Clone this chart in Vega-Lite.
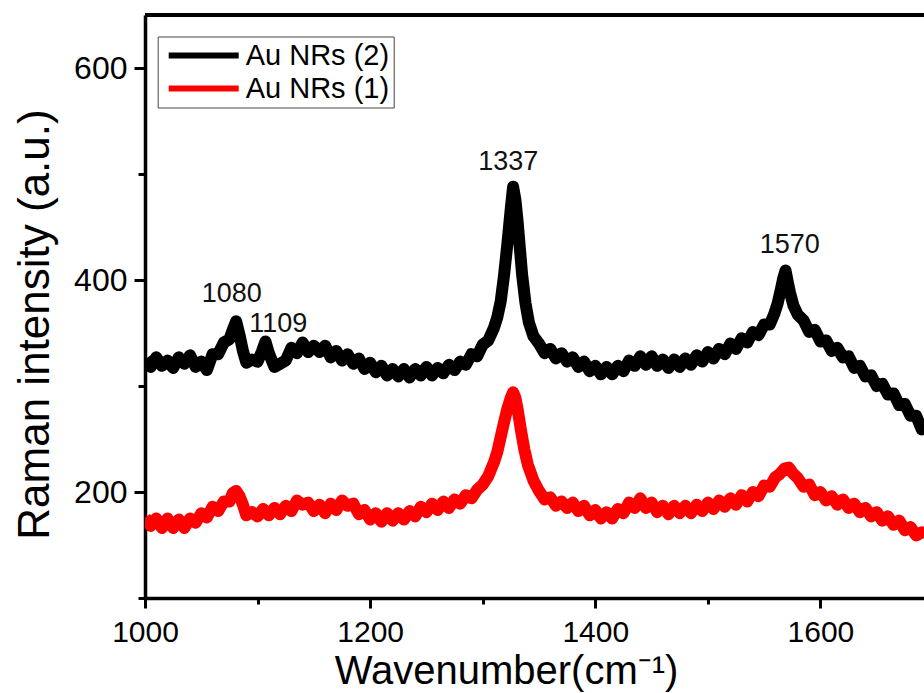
{
  "$schema": "https://vega.github.io/schema/vega-lite/v6.json",
  "width": 779,
  "height": 583,
  "autosize": {"type": "none"},
  "padding": {"left": 145, "top": 15, "right": 0, "bottom": 95},
  "background": "white",
  "config": {
    "view": {"stroke": null},
    "font": "Liberation Sans",
    "axis": {"labelFont": "Liberation Sans", "titleFont": "Liberation Sans", "labelColor": "black", "titleColor": "black", "titleFontWeight": "normal", "domainColor": "black", "tickColor": "black", "grid": false, "labelFlush": false, "labelOverlap": false, "labelBound": false}
  },
  "datasets": {
    "spectra": [
      {"x":1000,"y":325,"s":"Au NRs (2)"},{"x":1005,"y":318,"s":"Au NRs (2)"},{"x":1010,"y":327,"s":"Au NRs (2)"},{"x":1015,"y":319,"s":"Au NRs (2)"},{"x":1020,"y":324,"s":"Au NRs (2)"},{"x":1025,"y":317,"s":"Au NRs (2)"},{"x":1030,"y":327,"s":"Au NRs (2)"},{"x":1035,"y":321,"s":"Au NRs (2)"},{"x":1040,"y":329,"s":"Au NRs (2)"},{"x":1045,"y":318,"s":"Au NRs (2)"},{"x":1050,"y":323,"s":"Au NRs (2)"},{"x":1055,"y":315,"s":"Au NRs (2)"},{"x":1060,"y":330,"s":"Au NRs (2)"},{"x":1065,"y":330,"s":"Au NRs (2)"},{"x":1070,"y":341,"s":"Au NRs (2)"},{"x":1075,"y":344,"s":"Au NRs (2)"},{"x":1078,"y":353,"s":"Au NRs (2)"},{"x":1081,"y":361,"s":"Au NRs (2)"},{"x":1084,"y":348,"s":"Au NRs (2)"},{"x":1087,"y":333,"s":"Au NRs (2)"},{"x":1090,"y":322,"s":"Au NRs (2)"},{"x":1095,"y":325,"s":"Au NRs (2)"},{"x":1100,"y":323,"s":"Au NRs (2)"},{"x":1104,"y":333,"s":"Au NRs (2)"},{"x":1107,"y":342,"s":"Au NRs (2)"},{"x":1110,"y":331,"s":"Au NRs (2)"},{"x":1115,"y":318,"s":"Au NRs (2)"},{"x":1120,"y":321,"s":"Au NRs (2)"},{"x":1125,"y":324,"s":"Au NRs (2)"},{"x":1130,"y":336,"s":"Au NRs (2)"},{"x":1135,"y":331,"s":"Au NRs (2)"},{"x":1140,"y":341,"s":"Au NRs (2)"},{"x":1145,"y":332,"s":"Au NRs (2)"},{"x":1150,"y":338,"s":"Au NRs (2)"},{"x":1155,"y":332,"s":"Au NRs (2)"},{"x":1160,"y":338,"s":"Au NRs (2)"},{"x":1165,"y":327,"s":"Au NRs (2)"},{"x":1170,"y":333,"s":"Au NRs (2)"},{"x":1175,"y":324,"s":"Au NRs (2)"},{"x":1180,"y":330,"s":"Au NRs (2)"},{"x":1185,"y":321,"s":"Au NRs (2)"},{"x":1190,"y":326,"s":"Au NRs (2)"},{"x":1195,"y":316,"s":"Au NRs (2)"},{"x":1200,"y":322,"s":"Au NRs (2)"},{"x":1205,"y":313,"s":"Au NRs (2)"},{"x":1210,"y":319,"s":"Au NRs (2)"},{"x":1215,"y":310,"s":"Au NRs (2)"},{"x":1220,"y":316,"s":"Au NRs (2)"},{"x":1225,"y":309,"s":"Au NRs (2)"},{"x":1230,"y":316,"s":"Au NRs (2)"},{"x":1235,"y":308,"s":"Au NRs (2)"},{"x":1240,"y":316,"s":"Au NRs (2)"},{"x":1245,"y":310,"s":"Au NRs (2)"},{"x":1250,"y":318,"s":"Au NRs (2)"},{"x":1255,"y":310,"s":"Au NRs (2)"},{"x":1260,"y":317,"s":"Au NRs (2)"},{"x":1265,"y":312,"s":"Au NRs (2)"},{"x":1270,"y":320,"s":"Au NRs (2)"},{"x":1275,"y":315,"s":"Au NRs (2)"},{"x":1280,"y":323,"s":"Au NRs (2)"},{"x":1285,"y":320,"s":"Au NRs (2)"},{"x":1290,"y":330,"s":"Au NRs (2)"},{"x":1295,"y":328,"s":"Au NRs (2)"},{"x":1300,"y":339,"s":"Au NRs (2)"},{"x":1305,"y":343,"s":"Au NRs (2)"},{"x":1310,"y":355,"s":"Au NRs (2)"},{"x":1313,"y":365,"s":"Au NRs (2)"},{"x":1316,"y":380,"s":"Au NRs (2)"},{"x":1319,"y":405,"s":"Au NRs (2)"},{"x":1322,"y":435,"s":"Au NRs (2)"},{"x":1325,"y":468,"s":"Au NRs (2)"},{"x":1327,"y":488,"s":"Au NRs (2)"},{"x":1329,"y":476,"s":"Au NRs (2)"},{"x":1331,"y":455,"s":"Au NRs (2)"},{"x":1333,"y":430,"s":"Au NRs (2)"},{"x":1335,"y":405,"s":"Au NRs (2)"},{"x":1338,"y":378,"s":"Au NRs (2)"},{"x":1341,"y":360,"s":"Au NRs (2)"},{"x":1345,"y":347,"s":"Au NRs (2)"},{"x":1350,"y":340,"s":"Au NRs (2)"},{"x":1355,"y":331,"s":"Au NRs (2)"},{"x":1360,"y":335,"s":"Au NRs (2)"},{"x":1365,"y":326,"s":"Au NRs (2)"},{"x":1370,"y":331,"s":"Au NRs (2)"},{"x":1375,"y":323,"s":"Au NRs (2)"},{"x":1380,"y":327,"s":"Au NRs (2)"},{"x":1385,"y":318,"s":"Au NRs (2)"},{"x":1390,"y":323,"s":"Au NRs (2)"},{"x":1395,"y":314,"s":"Au NRs (2)"},{"x":1400,"y":319,"s":"Au NRs (2)"},{"x":1405,"y":311,"s":"Au NRs (2)"},{"x":1410,"y":318,"s":"Au NRs (2)"},{"x":1415,"y":311,"s":"Au NRs (2)"},{"x":1420,"y":319,"s":"Au NRs (2)"},{"x":1425,"y":314,"s":"Au NRs (2)"},{"x":1430,"y":324,"s":"Au NRs (2)"},{"x":1435,"y":319,"s":"Au NRs (2)"},{"x":1440,"y":328,"s":"Au NRs (2)"},{"x":1445,"y":320,"s":"Au NRs (2)"},{"x":1450,"y":328,"s":"Au NRs (2)"},{"x":1455,"y":319,"s":"Au NRs (2)"},{"x":1460,"y":325,"s":"Au NRs (2)"},{"x":1465,"y":317,"s":"Au NRs (2)"},{"x":1470,"y":325,"s":"Au NRs (2)"},{"x":1475,"y":318,"s":"Au NRs (2)"},{"x":1480,"y":326,"s":"Au NRs (2)"},{"x":1485,"y":320,"s":"Au NRs (2)"},{"x":1490,"y":329,"s":"Au NRs (2)"},{"x":1495,"y":323,"s":"Au NRs (2)"},{"x":1500,"y":332,"s":"Au NRs (2)"},{"x":1505,"y":326,"s":"Au NRs (2)"},{"x":1510,"y":335,"s":"Au NRs (2)"},{"x":1515,"y":330,"s":"Au NRs (2)"},{"x":1520,"y":340,"s":"Au NRs (2)"},{"x":1525,"y":335,"s":"Au NRs (2)"},{"x":1530,"y":345,"s":"Au NRs (2)"},{"x":1535,"y":341,"s":"Au NRs (2)"},{"x":1540,"y":351,"s":"Au NRs (2)"},{"x":1545,"y":348,"s":"Au NRs (2)"},{"x":1550,"y":358,"s":"Au NRs (2)"},{"x":1555,"y":358,"s":"Au NRs (2)"},{"x":1559,"y":368,"s":"Au NRs (2)"},{"x":1562,"y":378,"s":"Au NRs (2)"},{"x":1565,"y":392,"s":"Au NRs (2)"},{"x":1567,"y":402,"s":"Au NRs (2)"},{"x":1569,"y":409,"s":"Au NRs (2)"},{"x":1571,"y":398,"s":"Au NRs (2)"},{"x":1573,"y":388,"s":"Au NRs (2)"},{"x":1576,"y":376,"s":"Au NRs (2)"},{"x":1580,"y":367,"s":"Au NRs (2)"},{"x":1585,"y":362,"s":"Au NRs (2)"},{"x":1590,"y":351,"s":"Au NRs (2)"},{"x":1595,"y":353,"s":"Au NRs (2)"},{"x":1600,"y":342,"s":"Au NRs (2)"},{"x":1605,"y":343,"s":"Au NRs (2)"},{"x":1610,"y":333,"s":"Au NRs (2)"},{"x":1615,"y":336,"s":"Au NRs (2)"},{"x":1620,"y":327,"s":"Au NRs (2)"},{"x":1625,"y":328,"s":"Au NRs (2)"},{"x":1630,"y":317,"s":"Au NRs (2)"},{"x":1635,"y":319,"s":"Au NRs (2)"},{"x":1640,"y":309,"s":"Au NRs (2)"},{"x":1645,"y":310,"s":"Au NRs (2)"},{"x":1650,"y":300,"s":"Au NRs (2)"},{"x":1655,"y":302,"s":"Au NRs (2)"},{"x":1660,"y":292,"s":"Au NRs (2)"},{"x":1665,"y":293,"s":"Au NRs (2)"},{"x":1670,"y":282,"s":"Au NRs (2)"},{"x":1675,"y":283,"s":"Au NRs (2)"},{"x":1680,"y":272,"s":"Au NRs (2)"},{"x":1685,"y":272,"s":"Au NRs (2)"},{"x":1690,"y":259,"s":"Au NRs (2)"},{"x":1692,"y":260,"s":"Au NRs (2)"},
      {"x":1000,"y":176,"s":"Au NRs (1)"},{"x":1005,"y":168,"s":"Au NRs (1)"},{"x":1010,"y":175,"s":"Au NRs (1)"},{"x":1015,"y":166,"s":"Au NRs (1)"},{"x":1020,"y":175,"s":"Au NRs (1)"},{"x":1025,"y":166,"s":"Au NRs (1)"},{"x":1030,"y":174,"s":"Au NRs (1)"},{"x":1035,"y":166,"s":"Au NRs (1)"},{"x":1040,"y":175,"s":"Au NRs (1)"},{"x":1045,"y":171,"s":"Au NRs (1)"},{"x":1050,"y":180,"s":"Au NRs (1)"},{"x":1055,"y":176,"s":"Au NRs (1)"},{"x":1060,"y":186,"s":"Au NRs (1)"},{"x":1065,"y":182,"s":"Au NRs (1)"},{"x":1070,"y":191,"s":"Au NRs (1)"},{"x":1075,"y":191,"s":"Au NRs (1)"},{"x":1078,"y":199,"s":"Au NRs (1)"},{"x":1081,"y":201,"s":"Au NRs (1)"},{"x":1084,"y":196,"s":"Au NRs (1)"},{"x":1087,"y":188,"s":"Au NRs (1)"},{"x":1090,"y":178,"s":"Au NRs (1)"},{"x":1095,"y":181,"s":"Au NRs (1)"},{"x":1100,"y":177,"s":"Au NRs (1)"},{"x":1105,"y":184,"s":"Au NRs (1)"},{"x":1110,"y":178,"s":"Au NRs (1)"},{"x":1115,"y":185,"s":"Au NRs (1)"},{"x":1120,"y":179,"s":"Au NRs (1)"},{"x":1125,"y":187,"s":"Au NRs (1)"},{"x":1130,"y":182,"s":"Au NRs (1)"},{"x":1135,"y":192,"s":"Au NRs (1)"},{"x":1140,"y":188,"s":"Au NRs (1)"},{"x":1145,"y":190,"s":"Au NRs (1)"},{"x":1150,"y":182,"s":"Au NRs (1)"},{"x":1155,"y":188,"s":"Au NRs (1)"},{"x":1160,"y":180,"s":"Au NRs (1)"},{"x":1165,"y":189,"s":"Au NRs (1)"},{"x":1170,"y":183,"s":"Au NRs (1)"},{"x":1175,"y":192,"s":"Au NRs (1)"},{"x":1180,"y":187,"s":"Au NRs (1)"},{"x":1185,"y":189,"s":"Au NRs (1)"},{"x":1190,"y":179,"s":"Au NRs (1)"},{"x":1195,"y":183,"s":"Au NRs (1)"},{"x":1200,"y":174,"s":"Au NRs (1)"},{"x":1205,"y":180,"s":"Au NRs (1)"},{"x":1210,"y":172,"s":"Au NRs (1)"},{"x":1215,"y":180,"s":"Au NRs (1)"},{"x":1220,"y":173,"s":"Au NRs (1)"},{"x":1225,"y":180,"s":"Au NRs (1)"},{"x":1230,"y":174,"s":"Au NRs (1)"},{"x":1235,"y":182,"s":"Au NRs (1)"},{"x":1240,"y":177,"s":"Au NRs (1)"},{"x":1245,"y":186,"s":"Au NRs (1)"},{"x":1250,"y":181,"s":"Au NRs (1)"},{"x":1255,"y":189,"s":"Au NRs (1)"},{"x":1260,"y":183,"s":"Au NRs (1)"},{"x":1265,"y":191,"s":"Au NRs (1)"},{"x":1270,"y":185,"s":"Au NRs (1)"},{"x":1275,"y":193,"s":"Au NRs (1)"},{"x":1280,"y":189,"s":"Au NRs (1)"},{"x":1285,"y":197,"s":"Au NRs (1)"},{"x":1290,"y":194,"s":"Au NRs (1)"},{"x":1295,"y":202,"s":"Au NRs (1)"},{"x":1300,"y":207,"s":"Au NRs (1)"},{"x":1305,"y":215,"s":"Au NRs (1)"},{"x":1310,"y":228,"s":"Au NRs (1)"},{"x":1313,"y":238,"s":"Au NRs (1)"},{"x":1316,"y":252,"s":"Au NRs (1)"},{"x":1319,"y":266,"s":"Au NRs (1)"},{"x":1322,"y":279,"s":"Au NRs (1)"},{"x":1325,"y":289,"s":"Au NRs (1)"},{"x":1327,"y":294,"s":"Au NRs (1)"},{"x":1329,"y":289,"s":"Au NRs (1)"},{"x":1331,"y":278,"s":"Au NRs (1)"},{"x":1334,"y":258,"s":"Au NRs (1)"},{"x":1337,"y":240,"s":"Au NRs (1)"},{"x":1340,"y":226,"s":"Au NRs (1)"},{"x":1345,"y":211,"s":"Au NRs (1)"},{"x":1350,"y":201,"s":"Au NRs (1)"},{"x":1355,"y":193,"s":"Au NRs (1)"},{"x":1360,"y":195,"s":"Au NRs (1)"},{"x":1365,"y":187,"s":"Au NRs (1)"},{"x":1370,"y":191,"s":"Au NRs (1)"},{"x":1375,"y":185,"s":"Au NRs (1)"},{"x":1380,"y":190,"s":"Au NRs (1)"},{"x":1385,"y":182,"s":"Au NRs (1)"},{"x":1390,"y":187,"s":"Au NRs (1)"},{"x":1395,"y":178,"s":"Au NRs (1)"},{"x":1400,"y":183,"s":"Au NRs (1)"},{"x":1405,"y":175,"s":"Au NRs (1)"},{"x":1410,"y":181,"s":"Au NRs (1)"},{"x":1415,"y":175,"s":"Au NRs (1)"},{"x":1420,"y":184,"s":"Au NRs (1)"},{"x":1425,"y":180,"s":"Au NRs (1)"},{"x":1430,"y":190,"s":"Au NRs (1)"},{"x":1435,"y":185,"s":"Au NRs (1)"},{"x":1440,"y":194,"s":"Au NRs (1)"},{"x":1445,"y":185,"s":"Au NRs (1)"},{"x":1450,"y":190,"s":"Au NRs (1)"},{"x":1455,"y":181,"s":"Au NRs (1)"},{"x":1460,"y":187,"s":"Au NRs (1)"},{"x":1465,"y":179,"s":"Au NRs (1)"},{"x":1470,"y":187,"s":"Au NRs (1)"},{"x":1475,"y":180,"s":"Au NRs (1)"},{"x":1480,"y":187,"s":"Au NRs (1)"},{"x":1485,"y":180,"s":"Au NRs (1)"},{"x":1490,"y":188,"s":"Au NRs (1)"},{"x":1495,"y":182,"s":"Au NRs (1)"},{"x":1500,"y":190,"s":"Au NRs (1)"},{"x":1505,"y":184,"s":"Au NRs (1)"},{"x":1510,"y":192,"s":"Au NRs (1)"},{"x":1515,"y":186,"s":"Au NRs (1)"},{"x":1520,"y":194,"s":"Au NRs (1)"},{"x":1525,"y":188,"s":"Au NRs (1)"},{"x":1530,"y":197,"s":"Au NRs (1)"},{"x":1535,"y":191,"s":"Au NRs (1)"},{"x":1540,"y":200,"s":"Au NRs (1)"},{"x":1545,"y":196,"s":"Au NRs (1)"},{"x":1550,"y":206,"s":"Au NRs (1)"},{"x":1555,"y":205,"s":"Au NRs (1)"},{"x":1560,"y":214,"s":"Au NRs (1)"},{"x":1564,"y":217,"s":"Au NRs (1)"},{"x":1568,"y":222,"s":"Au NRs (1)"},{"x":1572,"y":223,"s":"Au NRs (1)"},{"x":1576,"y":217,"s":"Au NRs (1)"},{"x":1580,"y":213,"s":"Au NRs (1)"},{"x":1585,"y":205,"s":"Au NRs (1)"},{"x":1590,"y":207,"s":"Au NRs (1)"},{"x":1595,"y":197,"s":"Au NRs (1)"},{"x":1600,"y":200,"s":"Au NRs (1)"},{"x":1605,"y":192,"s":"Au NRs (1)"},{"x":1610,"y":196,"s":"Au NRs (1)"},{"x":1615,"y":188,"s":"Au NRs (1)"},{"x":1620,"y":193,"s":"Au NRs (1)"},{"x":1625,"y":185,"s":"Au NRs (1)"},{"x":1630,"y":189,"s":"Au NRs (1)"},{"x":1635,"y":181,"s":"Au NRs (1)"},{"x":1640,"y":185,"s":"Au NRs (1)"},{"x":1645,"y":177,"s":"Au NRs (1)"},{"x":1650,"y":181,"s":"Au NRs (1)"},{"x":1655,"y":173,"s":"Au NRs (1)"},{"x":1660,"y":177,"s":"Au NRs (1)"},{"x":1665,"y":169,"s":"Au NRs (1)"},{"x":1670,"y":173,"s":"Au NRs (1)"},{"x":1675,"y":164,"s":"Au NRs (1)"},{"x":1680,"y":167,"s":"Au NRs (1)"},{"x":1685,"y":159,"s":"Au NRs (1)"},{"x":1690,"y":162,"s":"Au NRs (1)"},{"x":1692,"y":158,"s":"Au NRs (1)"}
    ],
    "peaks": [
      {"x": 1077, "y": 379, "label": "1080"},
      {"x": 1118.4, "y": 351.4, "label": "1109"},
      {"x": 1322.6, "y": 503.4, "label": "1337"},
      {"x": 1572.8, "y": 425.7, "label": "1570"}
    ]
  },
  "layer": [
    {
      "data": {"name": "spectra"},
      "mark": {"type": "line", "strokeWidth": 12, "strokeJoin": "round", "clip": true},
      "encoding": {
        "x": {
          "field": "x", "type": "quantitative",
          "scale": {"domain": [1000, 1692], "nice": false, "zero": false},
          "axis": {
            "title": "Wavenumber(cm⁻¹)",
            "values": [1000, 1100, 1200, 1300, 1400, 1500, 1600],
            "labelExpr": "datum.value % 200 == 0 ? datum.label : ''",
            "format": "d",
            "domainWidth": 3.5,
            "tickWidth": 3,
            "tickSize": {"condition": {"test": "datum.value % 200 == 0", "value": 10}, "value": 6},
            "labelFontSize": 30,
            "labelPadding": 9,
            "titleFontSize": 40,
            "titleX": 361,
            "titleY": 85,
            "titleBaseline": "alphabetic",
            "titleAlign": "center",
            "titleAnchor": null
          }
        },
        "y": {
          "field": "y", "type": "quantitative",
          "scale": {"domain": [100, 650], "nice": false, "zero": false},
          "axis": {
            "title": "Raman intensity (a.u.)",
            "values": [100, 200, 300, 400, 500, 600],
            "labelExpr": "datum.value % 200 == 0 ? datum.label : ''",
            "format": "d",
            "domainWidth": 3.5,
            "tickWidth": 3,
            "tickSize": {"condition": {"test": "datum.value % 200 == 0", "value": 11}, "value": 7},
            "labelFontSize": 32,
            "labelPadding": 7,
            "titleFontSize": 44,
            "titleX": -97,
            "titleY": 309,
            "titleBaseline": "alphabetic",
            "titleAlign": "center",
            "titleAngle": -90
          }
        },
        "stroke": {
          "field": "s", "type": "nominal",
          "scale": {"domain": ["Au NRs (2)", "Au NRs (1)"], "range": ["#000000", "#ff0000"]},
          "legend": {
            "title": null,
            "orient": "none",
            "legendX": 12.7,
            "legendY": 21.5,
            "symbolType": "stroke",
            "symbolSize": 4900,
            "symbolStrokeWidth": 6,
            "clipHeight": 30,
            "rowPadding": 3,
            "symbolOffset": 4,
            "labelOffset": 4,
            "labelFontSize": 29,
            "labelFont": "Liberation Sans",
            "labelColor": "black",
            "padding": 4,
            "strokeColor": "#444444"
          }
        }
      }
    },
    {
      "data": {"name": "peaks"},
      "mark": {"type": "text", "fontSize": 27, "font": "Liberation Sans", "align": "center", "baseline": "alphabetic", "color": "#111111"},
      "encoding": {
        "x": {"field": "x", "type": "quantitative"},
        "y": {"field": "y", "type": "quantitative"},
        "text": {"field": "label", "type": "nominal"}
      }
    },
    {
      "data": {"values": [{}]},
      "mark": {"type": "rule", "strokeWidth": 4, "color": "black"},
      "encoding": {"y": {"datum": 650}}
    }
  ]
}
